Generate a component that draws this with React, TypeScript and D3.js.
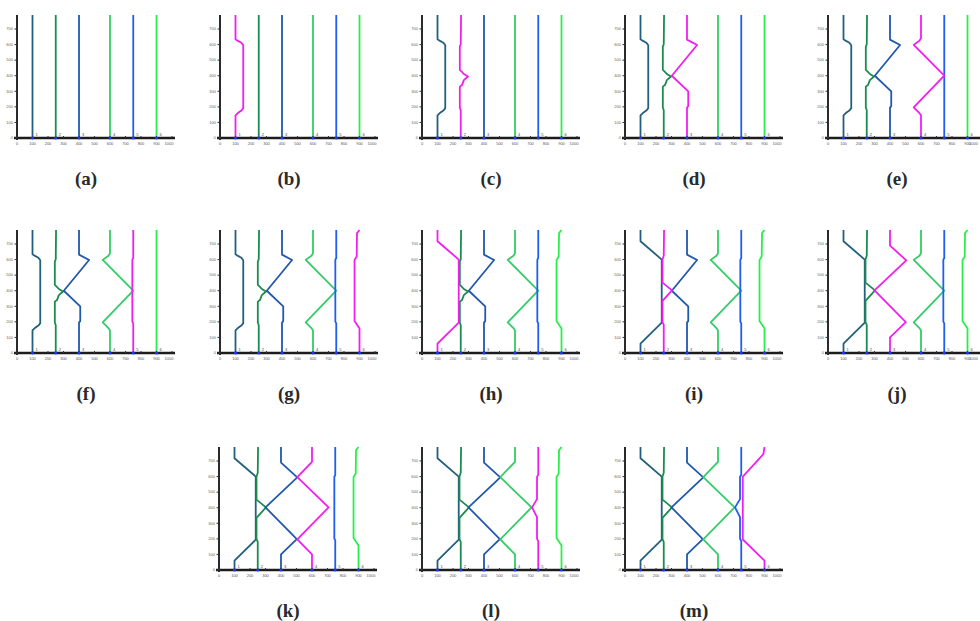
import React from "react";
import * as d3 from "d3";

type Pt = [number, number];

// Lane base positions and tick values
const LANES = [100, 250, 400, 600, 750, 900];
const LANE_LABELS = ["1", "2", "3", "4", "5", "6"];
const X_TICKS = [0, 100, 200, 300, 400, 500, 600, 700, 800, 900, 1000];
const Y_TICKS = [0, 100, 200, 300, 400, 500, 600, 700];
const CAPTIONS = ["(a)", "(b)", "(c)", "(d)", "(e)", "(f)", "(g)", "(h)", "(i)", "(j)", "(k)", "(l)", "(m)"];

// Straight initial paths
const A1_R0: Pt[] = [[100, 0], [100, 790]];
const A2_R0: Pt[] = [[250, 0], [250, 790]];
const A3_R0: Pt[] = [[400, 0], [400, 790]];
const A4_R0: Pt[] = [[600, 0], [600, 790]];
const A5_R0: Pt[] = [[750, 0], [750, 790]];
const A6_R0: Pt[] = [[900, 0], [900, 790]];

// First planning round
const A1_R1: Pt[] = [[100, 0], [100, 145], [115, 160], [140, 178], [150, 192], [150, 596], [138, 612], [110, 627], [100, 634], [100, 790]];
const A2_R1: Pt[] = [[250, 0], [250, 178], [244, 196], [244, 330], [258, 340], [270, 372], [297, 395], [270, 411], [256, 426], [244, 437], [244, 587], [250, 602], [252, 790]];
const A3_R1: Pt[] = [[400, 0], [400, 195], [408, 205], [408, 300], [302, 400], [465, 597], [400, 632], [400, 790]];
const A4_R1: Pt[] = [[600, 0], [600, 145], [590, 160], [553, 197], [750, 400], [553, 598], [590, 625], [600, 640], [600, 790]];
const A5_R1: Pt[] = [[750, 0], [750, 190], [744, 202], [744, 598], [750, 610], [750, 790]];
const A6_R1: Pt[] = [[900, 0], [900, 158], [868, 205], [868, 598], [882, 620], [884, 770], [900, 790]];

// Second planning round
const A1_R2: Pt[] = [[100, 0], [100, 60], [237, 195], [237, 600], [100, 718], [100, 790]];
const A2_R2: Pt[] = [[250, 0], [250, 180], [242, 198], [242, 335], [303, 402], [242, 452], [242, 600], [250, 625], [252, 790]];
const A3_R2: Pt[] = [[400, 0], [400, 100], [502, 198], [300, 402], [505, 595], [400, 690], [400, 790]];
const A4_R2: Pt[] = [[600, 0], [600, 100], [505, 196], [707, 402], [505, 596], [600, 695], [600, 790]];
const A5_R2: Pt[] = [[750, 0], [750, 185], [742, 200], [742, 340], [710, 402], [742, 455], [742, 598], [750, 612], [750, 790]];
const A6_R2: Pt[] = [[900, 0], [900, 60], [760, 196], [760, 600], [893, 745], [900, 790]];

const AGENT_COLORS = ["#23607e", "#1b8c4e", "#2258ab", "#33cc66", "#1f5ef2", "#2bee4a"];
const ACTIVE_COLOR = "#f21ef0";

const R0 = [A1_R0, A2_R0, A3_R0, A4_R0, A5_R0, A6_R0];
const R1 = [A1_R1, A2_R1, A3_R1, A4_R1, A5_R1, A6_R1];
const R2 = [A1_R2, A2_R2, A3_R2, A4_R2, A5_R2, A6_R2];

// Each panel: the round each agent shows and which agent is being planned (-1 = none)
const PANEL_ROUNDS: number[][] = [
  [0, 0, 0, 0, 0, 0],
  [1, 0, 0, 0, 0, 0],
  [1, 1, 0, 0, 0, 0],
  [1, 1, 1, 0, 0, 0],
  [1, 1, 1, 1, 0, 0],
  [1, 1, 1, 1, 1, 0],
  [1, 1, 1, 1, 1, 1],
  [2, 1, 1, 1, 1, 1],
  [2, 2, 1, 1, 1, 1],
  [2, 2, 2, 1, 1, 1],
  [2, 2, 2, 2, 1, 1],
  [2, 2, 2, 2, 2, 1],
  [2, 2, 2, 2, 2, 2],
];
const PANEL_ACTIVE = [-1, 0, 1, 2, 3, 4, 5, 0, 1, 2, 3, 4, 5];

// Panel placement (y-axis x position, x-axis y position)
const PANEL_X = [17, 220, 422, 625, 828, 17, 220, 422, 625, 828, 219, 422, 625];
const PANEL_Y = [138, 138, 138, 138, 138, 353, 353, 353, 353, 353, 570, 570, 570];

const PW = 155;
const PH = 123;
const PAGE_W = 980;

const x = d3.scaleLinear().domain([0, 1000]).range([0, PW]);
const y = d3.scaleLinear().domain([0, 790]).range([PH, 0]);
const line = d3
  .line<Pt>()
  .x((d) => x(d[0]))
  .y((d) => y(d[1]));

function Panel({ idx }: { idx: number }) {
  const ox = PANEL_X[idx];
  const oy = PANEL_Y[idx];
  const rounds = PANEL_ROUNDS[idx];
  const active = PANEL_ACTIVE[idx];
  const order = [0, 1, 2, 3, 4, 5].filter((i) => i !== active);
  if (active >= 0) order.push(active);
  // keep the last x label inside the page
  const lastLabelX = Math.min(x(1000) + 1.5, PAGE_W - 2 - ox);
  return (
    <g transform={`translate(${ox},${oy - PH})`}>
      {order.map((i) => {
        const src = rounds[i] === 0 ? R0 : rounds[i] === 1 ? R1 : R2;
        return (
          <path
            key={i}
            d={line(src[i]) || ""}
            fill="none"
            stroke={i === active ? ACTIVE_COLOR : AGENT_COLORS[i]}
            strokeWidth={1.8}
            strokeLinejoin="round"
          />
        );
      })}
      {/* axes */}
      <line x1={-3} x2={PW + 3} y1={PH} y2={PH} stroke="#1c1c1c" strokeWidth={2.3} />
      <line x1={0} x2={0} y1={0} y2={PH + 2} stroke="#2a2a2a" strokeWidth={2} />
      {X_TICKS.map((t, k) => {
        const last = k === X_TICKS.length - 1;
        return (
          <g key={`xt${t}`}>
            <line x1={x(t)} x2={x(t)} y1={PH - 2} y2={PH} stroke="#333" strokeWidth={1} />
            <text
              x={last ? lastLabelX : x(t)}
              y={PH + 6.5}
              fontSize={4}
              textAnchor={last ? "end" : "middle"}
              fill="#556"
              fontFamily="Liberation Sans"
            >
              {t}
            </text>
          </g>
        );
      })}
      {Y_TICKS.map((t) => (
        <g key={`yt${t}`}>
          <line x1={-2.5} x2={0} y1={y(t)} y2={y(t)} stroke="#333" strokeWidth={1} />
          <text x={-4} y={y(t) + 1.3} fontSize={4} textAnchor="end" fill="#665" fontFamily="Liberation Sans">
            {t}
          </text>
        </g>
      ))}
      {LANES.map((l, i) => (
        <g key={`ln${i}`}>
          <circle cx={x(l)} cy={PH} r={1.5} fill="#1a3cff" />
          <text x={x(l) + 3} y={PH - 2.5} fontSize={4} fill="#444" fontFamily="Liberation Sans">
            {LANE_LABELS[i]}
          </text>
        </g>
      ))}
      <text
        x={69}
        y={PH + 47}
        fontSize={19}
        fontWeight="bold"
        textAnchor="middle"
        fill="#2a2a2a"
        fontFamily="Liberation Serif"
      >
        {CAPTIONS[idx]}
      </text>
    </g>
  );
}

export default function App() {
  return (
    <svg
      width={PAGE_W}
      height={621}
      style={{ position: "absolute", left: 0, top: 0, background: "#fff" }}
    >
      {CAPTIONS.map((_, i) => (
        <Panel key={i} idx={i} />
      ))}
    </svg>
  );
}
